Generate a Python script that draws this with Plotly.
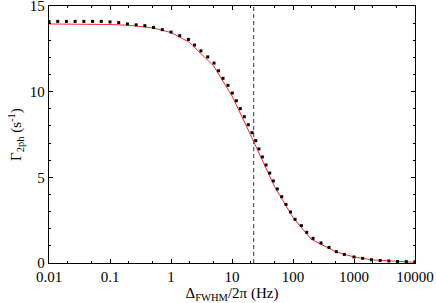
import plotly.graph_objects as go

# Dots (black squares)
dot_x = [0.01, 0.0139, 0.0193, 0.0268, 0.0373, 0.0518, 0.072, 0.1, 0.139, 0.193,
         0.268, 0.373, 0.518, 0.72, 1.0, 1.39, 1.93, 2.43, 3.10, 4.00,
         5.07, 6.01, 7.12, 8.60, 10.1, 11.8, 13.7, 15.9, 18.5, 21.3,
         24.5, 27.7, 31.4, 36.1, 41.5, 47.5, 55.3, 65.3, 76.8, 91.0,
         108, 137, 168, 213, 288, 389, 513, 693, 1000, 1389,
         1931, 2683, 3728, 5179, 7197, 10000]
dot_y = [14.10, 14.10, 14.10, 14.10, 14.10, 14.10, 14.10, 14.07, 14.03, 13.95,
         13.90, 13.85, 13.75, 13.62, 13.48, 13.27, 13.05, 12.72, 12.38, 12.03,
         11.67, 11.22, 10.78, 10.37, 9.92, 9.47, 9.01, 8.54, 8.07, 7.61,
         7.14, 6.66, 6.19, 5.72, 5.25, 4.79, 4.32, 3.87, 3.42, 2.98,
         2.55, 2.18, 1.79, 1.44, 1.17, 0.91, 0.66, 0.50, 0.35, 0.27,
         0.19, 0.15, 0.12, 0.09, 0.08, 0.08]

# Red line
line_x = [0.01, 0.02, 0.05, 0.1, 0.2, 0.5, 1, 2, 5, 10, 20, 50, 100, 200, 500,
          1000, 2000, 5000, 10000]
line_y = [13.95, 13.95, 13.93, 13.92, 13.88, 13.72, 13.45, 12.88, 11.50, 9.75,
          7.50, 4.45, 2.65, 1.38, 0.66, 0.35, 0.18, 0.08, 0.04]

# Vertical dashed marker
vline_x = 22.7
y_range = [0, 15]

x_tickvals = [0.01, 0.1, 1, 10, 100, 1000, 10000]
x_ticktext = ["0.01", "0.1", "1", "10", "100", "1000", "10000"]
y_tickvals = [0, 5, 10, 15]

FONT = "Liberation Serif, Times New Roman, serif"

fig = go.Figure()
fig.add_trace(go.Scatter(x=[vline_x, vline_x], y=y_range, mode="lines",
                         line=dict(color="#333333", width=1, dash="4px,3px"),
                         showlegend=False, hoverinfo="skip"))
fig.add_trace(go.Scatter(x=line_x, y=line_y, mode="lines",
                         line=dict(color="#ff2a2a", width=1), showlegend=False))
fig.add_trace(go.Scatter(x=dot_x, y=dot_y, mode="markers",
                         marker=dict(symbol="square", size=3, color="black"),
                         showlegend=False))

axis_common = dict(showline=True, linecolor="black", linewidth=1.3, mirror="allticks",
                   ticks="inside", ticklen=4, tickwidth=1, tickcolor="black",
                   showgrid=False, zeroline=False, automargin=False,
                   ticklabeloverflow="allow",
                   tickfont=dict(family=FONT, size=15, color="black"))

fig.update_xaxes(type="log", range=[-2, 4], tickvals=x_tickvals, ticktext=x_ticktext,
                 minor=dict(ticks="inside", ticklen=2, tickcolor="black", showgrid=False),
                 title=dict(text="Δ<sub>FWHM</sub>/2π (Hz)",
                            font=dict(family=FONT, size=15, color="black"), standoff=0),
                 **axis_common)
fig.update_yaxes(range=y_range, tickvals=y_tickvals,
                 minor=dict(ticks="inside", ticklen=2, dtick=1, tickcolor="black", showgrid=False),
                 title=dict(text="Γ<sub>2ph</sub> (s<sup>-1</sup>)",
                            font=dict(family=FONT, size=15, color="black"), standoff=4),
                 **axis_common)

fig.update_layout(width=436, height=303, margin=dict(l=49, r=21, t=6, b=40),
                  paper_bgcolor="white", plot_bgcolor="white",
                  font=dict(family=FONT, size=15, color="black"))

fig.write_html("out.html", config={"displayModeBar": False},
               post_script="document.body.style.margin='0';document.body.style.overflow='hidden';")
